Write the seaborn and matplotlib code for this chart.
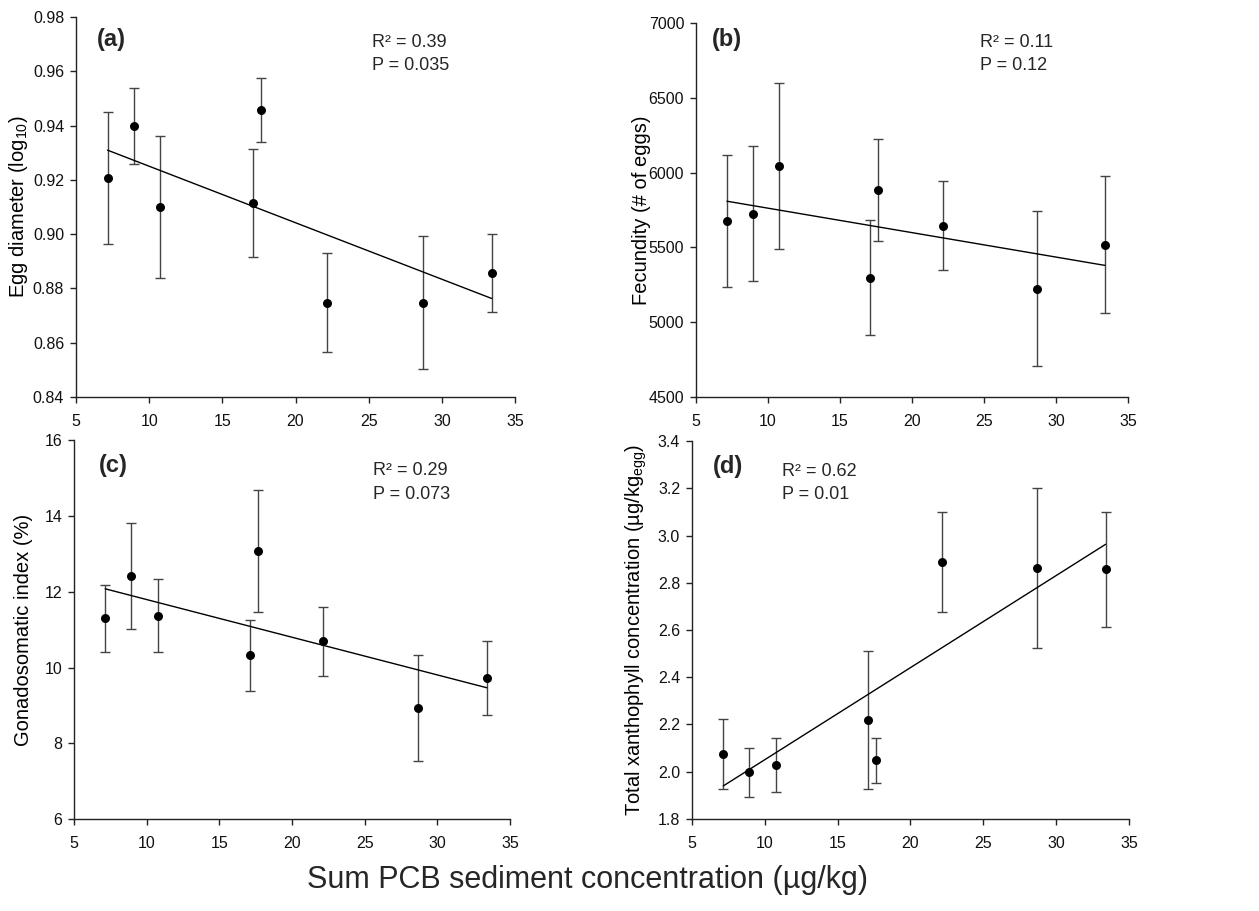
import numpy as np
import pandas as pd
import matplotlib
matplotlib.use("Agg")
import matplotlib.pyplot as plt
from matplotlib.ticker import FormatStrFormatter, MultipleLocator
import seaborn as sns

# ---------------- data ----------------
pcb = [7.15, 8.95, 10.75, 17.1, 17.65, 22.15, 28.7, 33.4]

egg_diam = [0.9208, 0.9399, 0.9099, 0.9115, 0.9457, 0.8748, 0.8748, 0.8857]
egg_diam_se = [0.0243, 0.0141, 0.0262, 0.0200, 0.0119, 0.0181, 0.0245, 0.0143]

fecundity = [5677, 5726, 6046, 5298, 5886, 5646, 5225, 5519]
fecundity_se = [442, 452, 556, 385, 342, 300, 519, 460]

gsi = [11.30, 12.41, 11.37, 10.32, 13.08, 10.69, 8.92, 9.73]
gsi_se = [0.89, 1.40, 0.97, 0.95, 1.60, 0.90, 1.40, 0.97]

xanth = [2.074, 1.998, 2.028, 2.218, 2.048, 2.889, 2.862, 2.857]
xanth_se = [0.148, 0.104, 0.113, 0.292, 0.096, 0.212, 0.337, 0.243]

panel_tags = ["(a)", "(b)", "(c)", "(d)"]
r2_text = ["R\u00b2 = 0.39", "R\u00b2 = 0.11", "R\u00b2 = 0.29", "R\u00b2 = 0.62"]
p_text = ["P = 0.035", "P = 0.12", "P = 0.073", "P = 0.01"]
ylabels = ["Egg diameter (log$_{10}$)", "Fecundity (# of eggs)",
           "Gonadosomatic index (%)",
           "Total xanthophyll concentration (\u00b5g/kg$_{egg}$)"]
xlabel = "Sum PCB sediment concentration (\u00b5g/kg)"

# ---------------- style ----------------
sns.set_theme(style="ticks")
plt.rcParams["font.family"] = ["Liberation Sans", "DejaVu Sans"]
plt.rcParams["mathtext.default"] = "regular"

fig = plt.figure(figsize=(12.59, 9.11), dpi=100)

panels = [
    dict(pos=[0.0604, 0.5642, 0.3487, 0.4171], y=egg_diam, e=egg_diam_se,
         ylim=(0.84, 0.98), step=0.02, fmt="%.2f", tag=(0.048, 0.971),
         rp=(0.674, 0.922, 0.861), lab=-0.105),
    dict(pos=[0.5528, 0.5642, 0.3431, 0.4105], y=fecundity, e=fecundity_se,
         ylim=(4500, 7000), step=500, fmt="%d", tag=(0.037, 0.987),
         rp=(0.657, 0.937, 0.874), lab=-0.105),
    dict(pos=[0.0588, 0.1010, 0.3463, 0.4155], y=gsi, e=gsi_se,
         ylim=(6, 16), step=2, fmt="%d", tag=(0.057, 0.963),
         rp=(0.686, 0.910, 0.846), lab=-0.094),
    dict(pos=[0.5496, 0.1010, 0.3471, 0.4149], y=xanth, e=xanth_se,
         ylim=(1.8, 3.4), step=0.2, fmt="%.1f", tag=(0.048, 0.963),
         rp=(0.206, 0.907, 0.846), lab=-0.099),
]

axis_col = "#222222"
for i, p in enumerate(panels):
    ax = fig.add_axes(p["pos"])
    df = pd.DataFrame({"x": pcb, "y": p["y"], "e": p["e"]})
    ax.errorbar(df["x"], df["y"], yerr=df["e"], fmt="none", ecolor="#444444",
                elinewidth=1.0, capsize=3.5, capthick=1.0, zorder=2)
    sns.regplot(data=df, x="x", y="y", ax=ax, scatter=False, ci=None,
                color="black", line_kws=dict(lw=1.0), truncate=True)
    sns.scatterplot(data=df, x="x", y="y", ax=ax, color="black", s=42,
                    edgecolor="black", linewidth=0, zorder=3)
    ax.set_xlim(5, 35)
    ax.set_ylim(*p["ylim"])
    ax.xaxis.set_major_locator(MultipleLocator(5))
    ax.yaxis.set_major_locator(MultipleLocator(p["step"]))
    ax.yaxis.set_major_formatter(FormatStrFormatter(p["fmt"]))
    ax.set_xlabel("")
    ax.set_ylabel(ylabels[i], fontsize=14.5, color="black")
    ax.yaxis.set_label_coords(p["lab"], 0.5)
    sns.despine(ax=ax)
    for s in ("left", "bottom"):
        ax.spines[s].set_color(axis_col)
        ax.spines[s].set_linewidth(1.0)
    ax.tick_params(axis="x", length=4.5, width=1.0, color=axis_col,
                   labelsize=11.5, pad=8, labelcolor="#111111")
    ax.tick_params(axis="y", length=4.5, width=1.0, color=axis_col,
                   labelsize=11.5, pad=4, labelcolor="#111111")
    ax.text(p["tag"][0], p["tag"][1], panel_tags[i], transform=ax.transAxes,
            fontsize=17, fontweight="bold", ha="left", va="top")
    ax.text(p["rp"][0], p["rp"][1], r2_text[i], transform=ax.transAxes,
            fontsize=13, ha="left", va="baseline")
    ax.text(p["rp"][0], p["rp"][2], p_text[i], transform=ax.transAxes,
            fontsize=13, ha="left", va="baseline")

fig.text(0.467, 0.034, xlabel, ha="center", va="center", fontsize=22)

fig.savefig("out.png", dpi=100)
